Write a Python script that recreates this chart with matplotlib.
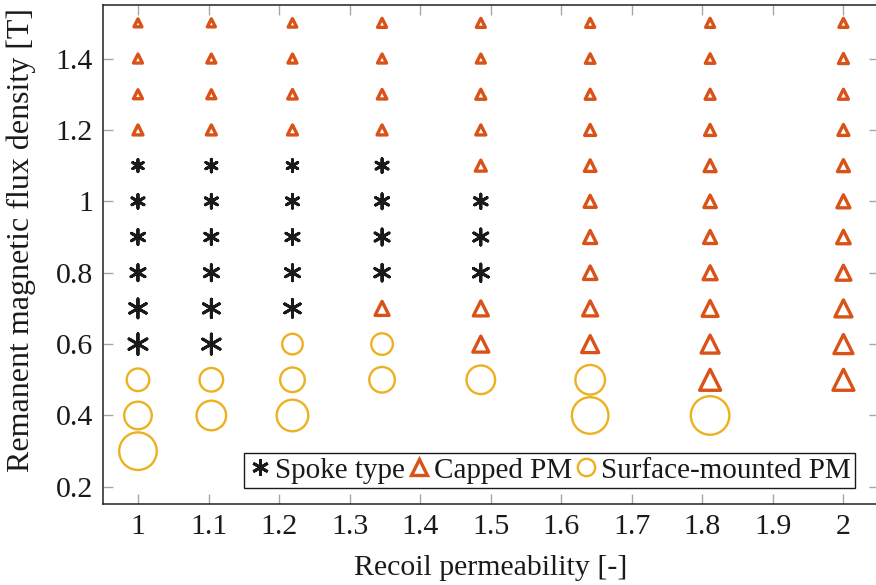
import matplotlib
matplotlib.use("Agg")
import matplotlib.pyplot as plt
from matplotlib.lines import Line2D
import numpy as np

# Spoke type designs: recoil permeability, remanence [T], marker weight
spoke_mu = [1.0, 1.0, 1.0, 1.0, 1.0, 1.0,
            1.104, 1.104, 1.104, 1.104, 1.104, 1.104,
            1.219, 1.219, 1.219, 1.219, 1.219,
            1.346, 1.346, 1.346, 1.346,
            1.486, 1.486, 1.486]
spoke_br = [0.6, 0.7, 0.8, 0.9, 1.0, 1.1,
            0.6, 0.7, 0.8, 0.9, 1.0, 1.1,
            0.7, 0.8, 0.9, 1.0, 1.1,
            0.8, 0.9, 1.0, 1.1,
            0.8, 0.9, 1.0]
spoke_w = [18, 16.5, 14, 13, 12, 10.5,
           17.5, 16, 14, 13, 12, 11,
           15.5, 14, 13, 12, 10.5,
           14.5, 14, 13, 12,
           15, 14, 12.5]

# Capped PM designs
capped_mu = [1.0, 1.0, 1.0, 1.0,
             1.104, 1.104, 1.104, 1.104,
             1.219, 1.219, 1.219, 1.219,
             1.346, 1.346, 1.346, 1.346, 1.346,
             1.486, 1.486, 1.486, 1.486, 1.486, 1.486, 1.486,
             1.641, 1.641, 1.641, 1.641, 1.641, 1.641, 1.641, 1.641, 1.641, 1.641,
             1.811, 1.811, 1.811, 1.811, 1.811, 1.811, 1.811, 1.811, 1.811, 1.811, 1.811,
             2.0, 2.0, 2.0, 2.0, 2.0, 2.0, 2.0, 2.0, 2.0, 2.0, 2.0]
capped_br = [1.2, 1.3, 1.4, 1.5,
             1.2, 1.3, 1.4, 1.5,
             1.2, 1.3, 1.4, 1.5,
             0.7, 1.2, 1.3, 1.4, 1.5,
             0.6, 0.7, 1.1, 1.2, 1.3, 1.4, 1.5,
             0.6, 0.7, 0.8, 0.9, 1.0, 1.1, 1.2, 1.3, 1.4, 1.5,
             0.5, 0.6, 0.7, 0.8, 0.9, 1.0, 1.1, 1.2, 1.3, 1.4, 1.5,
             0.5, 0.6, 0.7, 0.8, 0.9, 1.0, 1.1, 1.2, 1.3, 1.4, 1.5]
capped_w = [11, 10, 10, 9,
            11, 10, 10, 9,
            11, 10.5, 10, 9.5,
            15, 11, 10.5, 10, 10,
            17, 16, 12, 11, 11, 10, 10,
            18, 16, 14.5, 14, 13, 12.5, 12, 11, 10.5, 10,
            22, 19, 17, 15, 14, 13.5, 13, 12, 11, 10.5, 10,
            22, 20, 18, 16, 14.5, 14, 13, 12, 11, 11, 10]

# Surface-mounted PM designs
surf_mu = [1.0, 1.0, 1.0, 1.104, 1.104, 1.219, 1.219, 1.219,
           1.346, 1.346, 1.486, 1.641, 1.641, 1.811]
surf_br = [0.3, 0.4, 0.5, 0.4, 0.5, 0.4, 0.5, 0.6,
           0.5, 0.6, 0.5, 0.4, 0.5, 0.4]
surf_w = [39, 29, 24, 31, 25, 33, 26, 22,
          27, 23, 30, 38, 31, 40]

x_ticks = [1, 1.1, 1.2, 1.3, 1.4, 1.5, 1.6, 1.7, 1.8, 1.9, 2]
x_tick_labels = ["1", "1.1", "1.2", "1.3", "1.4", "1.5", "1.6", "1.7", "1.8", "1.9", "2"]
y_ticks = [0.2, 0.4, 0.6, 0.8, 1.0, 1.2, 1.4]
y_tick_labels = ["0.2", "0.4", "0.6", "0.8", "1", "1.2", "1.4"]

C_SPOKE = "#1a1a1a"
C_CAPPED = "#D95319"
C_SURF = "#EDB120"

DPI = 100
PX = 72.0 / DPI  # points per pixel

plt.rcParams["font.family"] = ["Liberation Serif", "DejaVu Serif"]

fig = plt.figure(figsize=(8.76, 5.85), dpi=DPI)
ax = fig.add_axes([102.7 / 876, 81 / 585, 776 / 876, 499 / 585])

LW_AST = 2.1
LW_TRI = 2.4
LW_CIR = 1.7

asterisk = (6, 2, 0)

def ast_size(w):
    return (np.asarray(w) * PX / 0.866) ** 2

def tri_size(w):
    return (np.asarray(w) * PX - 0.3 * LW_TRI) ** 2

def cir_size(w):
    return (np.asarray(w) * PX - 0.6 * LW_CIR) ** 2

ax.scatter(surf_mu, surf_br, s=cir_size(surf_w), marker="o",
           facecolors="none", edgecolors=C_SURF, linewidths=LW_CIR, zorder=3)
ax.scatter(capped_mu, capped_br, s=tri_size(capped_w), marker="^",
           facecolors="none", edgecolors=C_CAPPED, linewidths=LW_TRI, zorder=3)
ax.scatter(spoke_mu, spoke_br, s=ast_size(spoke_w), marker=asterisk,
           color=C_SPOKE, linewidths=LW_AST, zorder=3)

ax.set_xlim(0.95, 2.05)
ax.set_ylim(0.152, 1.55)
ax.set_xticks(x_ticks)
ax.set_xticklabels(x_tick_labels)
ax.set_yticks(y_ticks)
ax.set_yticklabels(y_tick_labels)

FS = 21.5
ax.tick_params(axis="both", which="major", direction="in", length=7.5, width=1.0,
               color="#a6a6a6", labelcolor="#1a1a1a", labelsize=FS,
               top=True, right=True, pad=7)
for sp in ax.spines.values():
    sp.set_color("#222222")
    sp.set_linewidth(1.1)

ax.set_xlabel("Recoil permeability [-]", fontsize=FS, color="#1a1a1a", labelpad=11)
ax.set_ylabel("Remanent magnetic flux density [T]", fontsize=23, color="#1a1a1a")
ax.yaxis.set_label_coords(-0.086, 0.53)

handles = [
    Line2D([], [], linestyle="none", marker=asterisk, markersize=12, color=C_SPOKE,
           markeredgewidth=LW_AST),
    Line2D([], [], linestyle="none", marker="^", markersize=11, markerfacecolor="none",
           markeredgecolor=C_CAPPED, markeredgewidth=LW_TRI),
    Line2D([], [], linestyle="none", marker="o", markersize=12.5, markerfacecolor="none",
           markeredgecolor=C_SURF, markeredgewidth=LW_CIR),
]
leg = ax.legend(handles, ["Spoke type", "Capped PM", "Surface-mounted PM"],
                ncol=3, loc="lower right",
                bbox_to_anchor=(855 / 876, 97 / 585), bbox_transform=fig.transFigure,
                fontsize=21, frameon=True, fancybox=False, framealpha=1,
                edgecolor="#1a1a1a", borderpad=0.15, borderaxespad=0,
                handlelength=0.8, handletextpad=0.1, columnspacing=0.1)
leg.get_frame().set_linewidth(1.0)
for t in leg.get_texts():
    t.set_color("#1a1a1a")

fig.savefig("out.png", dpi=DPI)
